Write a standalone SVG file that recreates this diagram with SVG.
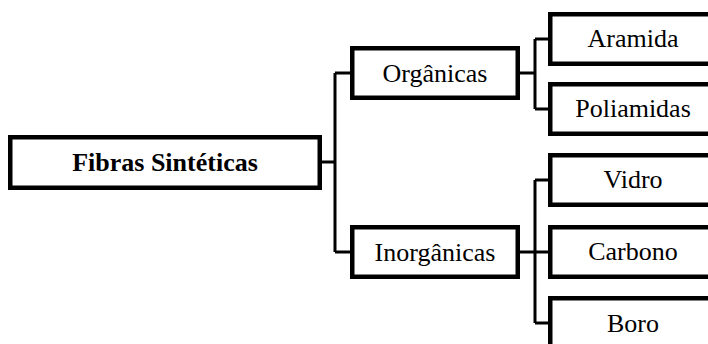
<svg xmlns="http://www.w3.org/2000/svg" width="708" height="344" viewBox="0 0 708 344">
<style>
.box{fill:#fff;stroke:#000;stroke-width:4.5}
.t{font-family:"Liberation Serif","Times New Roman",serif;font-size:26px;fill:#000;text-anchor:middle}
.b{font-weight:bold}
.c{fill:none;stroke:#000;stroke-width:3}
</style>
<rect width="708" height="344" fill="#fff"/>
<g id="connectors">
<path class="c" d="M322 162H335M335 73V252M335 73H350M335 252H350"/>
<path class="c" d="M520 73H535M535 39V109M535 39H548M535 109H548"/>
<path class="c" d="M520 252H548M535 180V323M535 180H548M535 323H548"/>
</g>
<g id="fibras"><rect class="box" x="10.25" y="137.25" width="309.5" height="50.5"/><text class="t b" x="165" y="171">Fibras Sintéticas</text></g>
<g id="organicas"><rect class="box" x="352.25" y="48.25" width="165.5" height="49.5"/><text class="t" x="435" y="82">Orgânicas</text></g>
<g id="inorganicas"><rect class="box" x="352.25" y="227.25" width="165.5" height="49.5"/><text class="t" x="435" y="261">Inorgânicas</text></g>
<g id="aramida"><rect class="box" x="550.25" y="14.25" width="165.5" height="49.5"/><text class="t" x="633" y="47">Aramida</text></g>
<g id="poliamidas"><rect class="box" x="550.25" y="84.25" width="165.5" height="49.5"/><text class="t" x="633" y="117">Poliamidas</text></g>
<g id="vidro"><rect class="box" x="550.25" y="155.25" width="165.5" height="49.5"/><text class="t" x="633" y="188">Vidro</text></g>
<g id="carbono"><rect class="box" x="550.25" y="227.25" width="165.5" height="49.5"/><text class="t" x="633" y="260">Carbono</text></g>
<g id="boro"><rect class="box" x="550.25" y="298.25" width="165.5" height="49.5"/><text class="t" x="633" y="332">Boro</text></g>
</svg>
